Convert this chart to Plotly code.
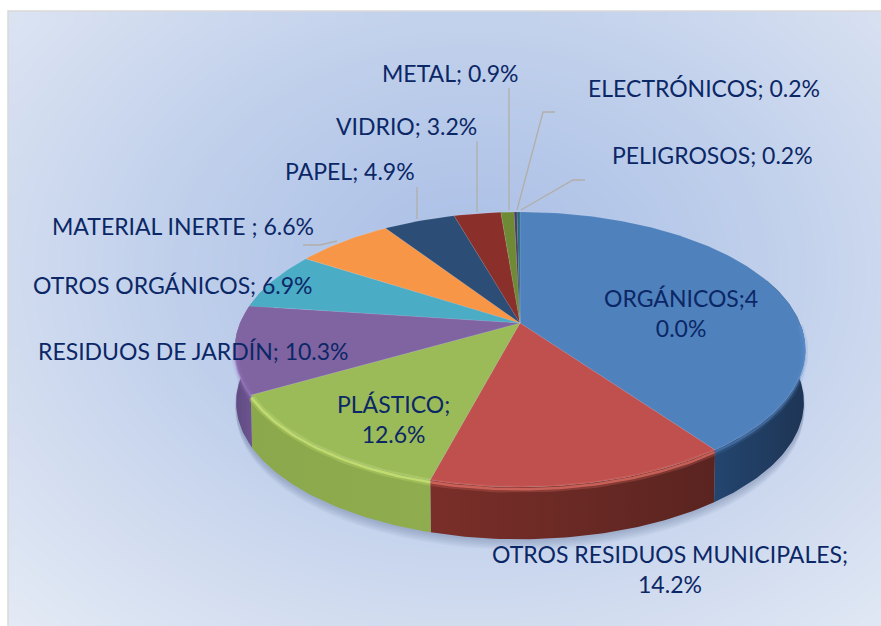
import numpy as np
import plotly.graph_objects as go

categories = ["ORGÁNICOS", "OTROS RESIDUOS MUNICIPALES", "PLÁSTICO", "RESIDUOS DE JARDÍN",
              "OTROS ORGÁNICOS", "MATERIAL INERTE", "PAPEL", "VIDRIO", "METAL",
              "ELECTRÓNICOS", "PELIGROSOS"]
values = [40.0, 14.2, 12.6, 10.3, 6.9, 6.6, 4.9, 3.2, 0.9, 0.2, 0.2]
top_colors = ["#4F81BD", "#C0504D", "#9BBB59", "#8064A2", "#4BACC6", "#F79646",
              "#2C4D75", "#8A2F2A", "#6F8A35", "#4D3B62", "#276A7C"]
wall_colors = [("#23456F", "#1E3555"), ("#7A2E29", "#5A2420"), ("#8BA84C", "#8FAD4E"),
               ("#5F4A80", "#6D5590"), ("#2F7F95", "#2F7F95"), ("#B86E30", "#B86E30"),
               ("#1E3555", "#1E3555"), ("#5A2420", "#5A2420"), ("#4A5C24", "#4A5C24"),
               ("#3A2C4A", "#3A2C4A"), ("#1D505E", "#1D505E")]
rim_colors = ["rgba(94,143,204,0.45)", "rgba(222,110,100,0.75)", "rgba(198,224,116,0.85)",
              "rgba(154,120,196,0.5)", "#5BC0DA", "#F9A860", "#3A6090", "#A04038", "#80A040", "#5D4B72", "#37808F"]
labels = ["ORGÁNICOS;4<br>0.0%", "OTROS RESIDUOS MUNICIPALES;<br>14.2%", "PLÁSTICO;<br>12.6%",
          "RESIDUOS DE JARDÍN; 10.3%", "OTROS ORGÁNICOS; 6.9%", "MATERIAL INERTE ; 6.6%",
          "PAPEL; 4.9%", "VIDRIO; 3.2%", "METAL; 0.9%", "ELECTRÓNICOS; 0.2%", "PELIGROSOS; 0.2%"]
label_pos = [(681, 313), (670, 569), (393, 419), (193, 351), (173, 285), (183, 226),
             (350, 171), (406, 126), (450, 73), (704, 88), (712, 155)]

# pie in perspective, pixel units
CX, CY, RX, RY, K, DEPTH = 520, 323, 280, 132.4, 0.193, 53


def project(theta, drop=0, shrink=1.0):
    u, v = np.sin(theta), -np.cos(theta)
    s = shrink / (1 - K * v)
    return CX + RX * u * s, CY + RY * v * s + drop


def arc(a0, a1, drop=0, shrink=1.0):
    return project(np.linspace(a0, a1, max(3, int((a1 - a0) * 60))), drop, shrink)


fig = go.Figure()

# background gradient, cells start on the frame edge
gx = np.arange(18, 900, 20)
gy = np.arange(21, 640, 20)
xx, yy = np.meshgrid(gx, gy)
t = np.sqrt(((xx - 470) / 450) ** 2 + ((yy - 270) / 340) ** 2)
fig.add_trace(go.Heatmap(x=gx, y=gy, z=t, zmin=0, zmax=1.45, showscale=False, hoverinfo="skip", zsmooth="best",
                         colorscale=[[0, "#A9BEE6"], [0.45, "#BFCFEB"], [0.7, "#D0DBEF"], [1, "#E3EAF5"]]))

# soft shadow under the pie
for i in range(7):
    sx, sy = arc(0, 2 * np.pi, DEPTH + 1 + i * 1.6, 1.0 - i * 0.001)
    fig.add_trace(go.Scatter(x=sx, y=sy, mode="lines", fill="toself", line=dict(width=0),
                             fillcolor="rgba(70,90,140,0.05)", hoverinfo="skip"))

edges = np.concatenate([[0], np.cumsum(values)]) / sum(values) * 2 * np.pi

# side walls, only the part facing the viewer
lo, hi = np.radians(70), np.radians(290)
for i in range(len(values)):
    a0, a1 = max(edges[i], lo), min(edges[i + 1], hi)
    if a1 <= a0:
        continue
    tx, ty = arc(a0, a1)
    bx, by = arc(a0, a1, DEPTH, 0.995)
    fig.add_trace(go.Scatter(x=np.concatenate([tx, bx[::-1]]), y=np.concatenate([ty, by[::-1]]),
                             mode="lines", fill="toself", line=dict(width=0), hoverinfo="skip",
                             fillgradient=dict(type="horizontal",
                                               colorscale=[[0, wall_colors[i][0]], [1, wall_colors[i][1]]])))

# top faces
for i in range(len(values)):
    tx, ty = arc(edges[i], edges[i + 1])
    fig.add_trace(go.Scatter(x=np.concatenate([[CX], tx, [CX]]), y=np.concatenate([[CY], ty, [CY]]),
                             mode="lines", fill="toself", fillcolor=top_colors[i],
                             line=dict(width=0.8, color="rgba(255,255,255,0.12)"), hoverinfo="skip"))

# bevel highlight along the front rim
rim_lo, rim_hi = np.radians(90), np.radians(262)
for i in range(len(values)):
    a0, a1 = max(edges[i], rim_lo), min(edges[i + 1], rim_hi)
    if a1 <= a0:
        continue
    rx, ry = arc(a0, a1, 2.5, 0.998)
    fig.add_trace(go.Scatter(x=rx, y=ry, mode="lines", opacity=0.35,
                             line=dict(width=7, color=rim_colors[i]), hoverinfo="skip"))
    fig.add_trace(go.Scatter(x=rx, y=ry, mode="lines", line=dict(width=2.5, color=rim_colors[i]), hoverinfo="skip"))

# leader lines
leaders = [[(417, 187), (417, 219)], [(477, 141), (477, 212)], [(509, 88), (509, 210)],
           [(517, 210), (543, 112), (555, 112)], [(521, 210), (573, 180), (585, 180)],
           [(303, 245), (320, 245), (337, 241)]]
shapes = []
for pts in leaders:
    path = "M " + " L ".join(f"{x} {y}" for x, y in pts)
    shapes.append(dict(type="path", path=path, line=dict(color="#B2AEA8", width=1.3)))
# frame of the chart area
shapes.append(dict(type="rect", x0=8, y0=11, x1=885, y1=630, line=dict(color="#D9D9D9", width=1.5)))

for text, (x, y) in zip(labels, label_pos):
    fig.add_annotation(x=x, y=y, text=text, showarrow=False, align="center", xanchor="center", yanchor="middle",
                       font=dict(family="Lato", size=23, color="#0B2766"))

fig.update_layout(
    width=881, height=626, margin=dict(l=0, r=0, t=0, b=0), showlegend=False,
    paper_bgcolor="white", plot_bgcolor="white", shapes=shapes,
    xaxis=dict(range=[0, 881], visible=False, fixedrange=True),
    yaxis=dict(range=[626, 0], visible=False, fixedrange=True),
)

fig.write_html("out.html", config={"displayModeBar": False}, post_script="document.body.style.margin='0';")
